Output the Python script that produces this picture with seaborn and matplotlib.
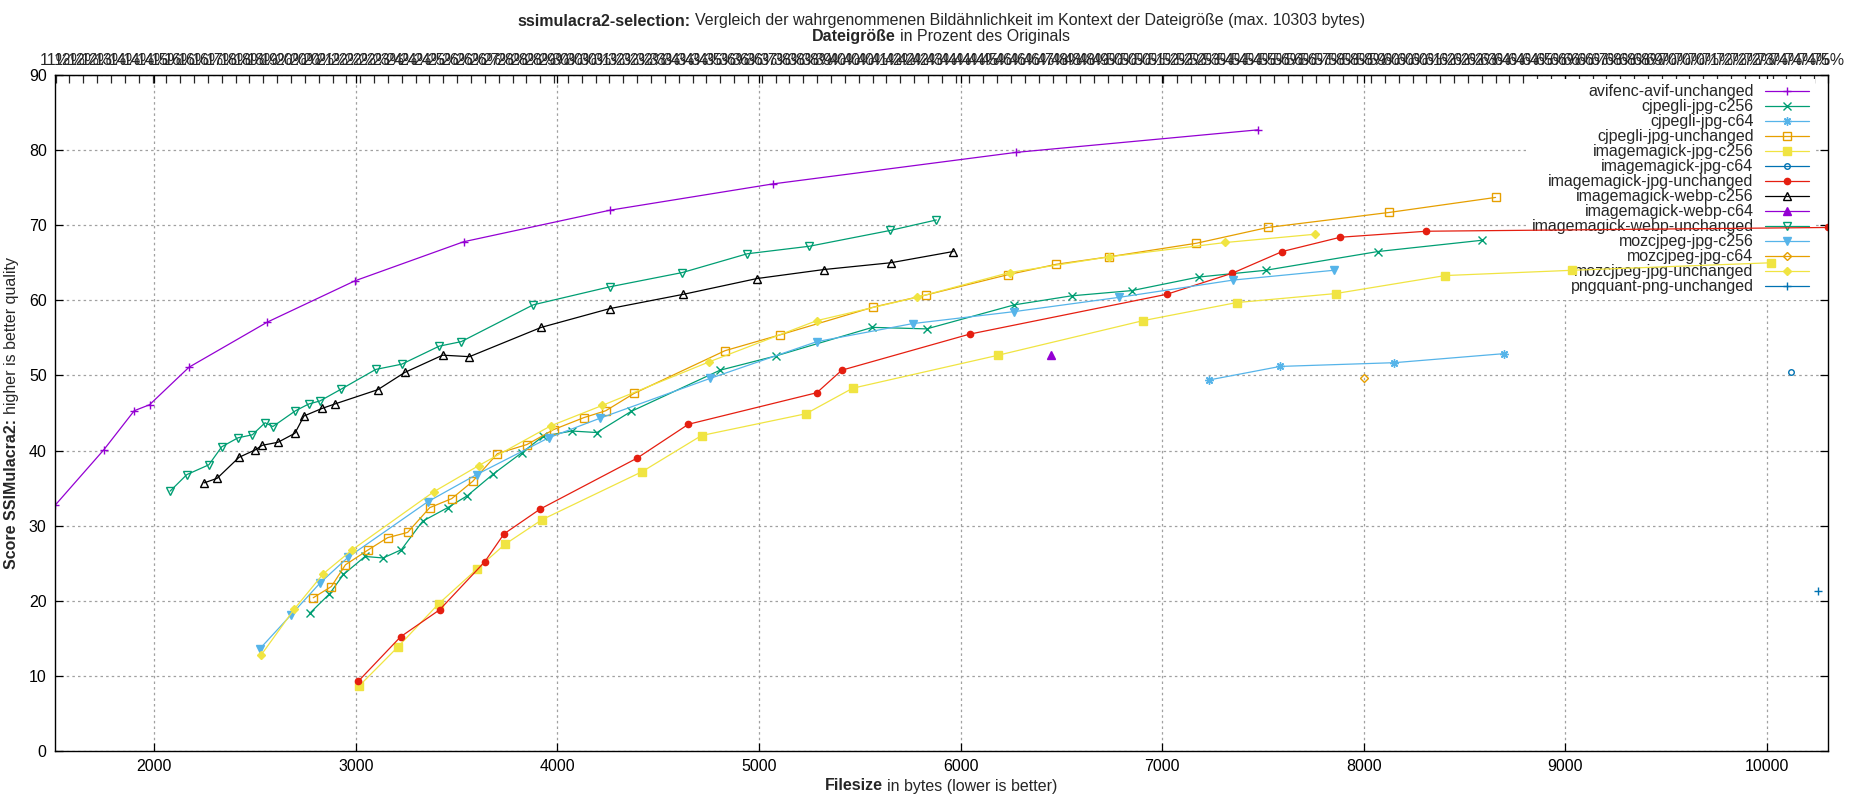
import matplotlib
matplotlib.use("Agg")
import matplotlib.pyplot as plt
import numpy as np
import seaborn as sns

# --- data ---
avif_x = [1508, 1750, 1901, 1977, 2173, 2561, 2996, 3535, 4261, 5069, 6276, 7476]
avif_y = [32.7, 40.1, 45.3, 46.1, 51.1, 57.1, 62.6, 67.8, 72.0, 75.5, 79.7, 82.7]

cjpegli_c256_x = [2774, 2869, 2939, 3046, 3136, 3226, 3332, 3456, 3554, 3683, 3823, 3929, 4071,
                  4196, 4365, 4807, 5084, 5563, 5832, 6267, 6551, 6851, 7181, 7513, 8071, 8588]
cjpegli_c256_y = [18.4, 20.9, 23.5, 25.9, 25.7, 26.8, 30.6, 32.4, 34.0, 36.9, 39.7, 41.9, 42.6,
                  42.4, 45.2, 50.7, 52.6, 56.4, 56.2, 59.4, 60.6, 61.3, 63.1, 64.0, 66.5, 68.0]

cjpegli_c64_x = [7233, 7585, 8152, 8695]
cjpegli_c64_y = [49.4, 51.2, 51.7, 52.9]

cjpegli_unch_x = [2789, 2879, 2949, 3063, 3158, 3257, 3367, 3476, 3580, 3703, 3849, 3982, 4133,
                  4240, 4380, 4832, 5104, 5568, 5827, 6233, 6475, 6738, 7170, 7524, 8126, 8654]
cjpegli_unch_y = [20.4, 21.9, 24.8, 26.8, 28.4, 29.1, 32.4, 33.6, 35.9, 39.6, 40.8, 42.8, 44.4,
                  45.3, 47.6, 53.3, 55.4, 59.1, 60.7, 63.4, 64.8, 65.8, 67.6, 69.7, 71.7, 73.7]

im_jpg_c256_x = [3018, 3207, 3411, 3600, 3739, 3924, 4421, 4715, 5233, 5465, 6188, 6906, 7369,
                 7860, 8405, 9034, 10019]
im_jpg_c256_y = [8.7, 13.8, 19.6, 24.2, 27.5, 30.8, 37.2, 42.0, 44.9, 48.3, 52.7, 57.3, 59.7,
                 60.9, 63.3, 64.0, 65.0]

im_jpg_c64_x = [10120]
im_jpg_c64_y = [50.4]

im_jpg_unch_x = [3013, 3222, 3416, 3640, 3735, 3914, 4396, 4650, 5287, 5411, 6045, 7022, 7347,
                 7596, 7884, 8311, 10303]
im_jpg_unch_y = [9.3, 15.2, 18.8, 25.2, 28.9, 32.2, 39.0, 43.5, 47.7, 50.7, 55.5, 60.8, 63.6,
                 66.5, 68.4, 69.2, 69.7]

im_webp_c256_x = [2248, 2312, 2421, 2502, 2536, 2614, 2698, 2743, 2832, 2896, 3109, 3243, 3431,
                  3564, 3920, 4260, 4625, 4990, 5322, 5653, 5964]
im_webp_c256_y = [35.7, 36.3, 39.1, 40.1, 40.7, 41.1, 42.3, 44.6, 45.6, 46.2, 48.1, 50.4, 52.7,
                  52.5, 56.4, 58.9, 60.8, 62.9, 64.1, 65.0, 66.5]

im_webp_c64_x = [6450]
im_webp_c64_y = [52.7]

im_webp_unch_x = [2079, 2162, 2271, 2335, 2416, 2487, 2550, 2589, 2701, 2767, 2822, 2929, 3099,
                  3228, 3414, 3523, 3880, 4260, 4620, 4942, 5250, 5650, 5880]
im_webp_unch_y = [34.6, 36.8, 38.1, 40.5, 41.7, 42.1, 43.7, 43.2, 45.3, 46.2, 46.6, 48.2, 50.8,
                  51.5, 53.9, 54.5, 59.4, 61.8, 63.7, 66.2, 67.2, 69.3, 70.7]

moz_c256_x = [2524, 2678, 2824, 2962, 3358, 3599, 3957, 4211, 4757, 5287, 5762, 6267, 6787, 7353, 7851]
moz_c256_y = [13.6, 18.1, 22.4, 25.8, 33.2, 36.8, 41.7, 44.3, 49.6, 54.5, 56.9, 58.5, 60.4, 62.7, 64.0]

moz_c64_x = [7999]
moz_c64_y = [49.6]

moz_unch_x = [2531, 2695, 2839, 2983, 3386, 3610, 3968, 4222, 4752, 5287, 5782, 6243, 6738, 7314, 7759]
moz_unch_y = [12.8, 18.9, 23.6, 26.8, 34.5, 38.0, 43.3, 46.0, 51.8, 57.3, 60.4, 63.7, 65.8, 67.7, 68.8]

pngquant_x = [10253]
pngquant_y = [21.3]

max_bytes = 10303
orig_bytes = 13737  # size of the original, top axis shows percent of it

x_ticks = [2000, 3000, 4000, 5000, 6000, 7000, 8000, 9000, 10000]
y_ticks = [0, 10, 20, 30, 40, 50, 60, 70, 80, 90]
pct_ticks = np.arange(11, 75.01, 0.5)
pct_labels = ["%.0f%%" % p for p in pct_ticks]

# name, x, y, colour, marker, filled, marker size
series = [
    ("avifenc-avif-unchanged", avif_x, avif_y, "#9400d3", "+", True, 6),
    ("cjpegli-jpg-c256", cjpegli_c256_x, cjpegli_c256_y, "#009e73", "x", True, 5.5),
    ("cjpegli-jpg-c64", cjpegli_c64_x, cjpegli_c64_y, "#56b4e9", (8, 2, 0), True, 6),
    ("cjpegli-jpg-unchanged", cjpegli_unch_x, cjpegli_unch_y, "#e69f00", "s", False, 5.5),
    ("imagemagick-jpg-c256", im_jpg_c256_x, im_jpg_c256_y, "#f0e442", "s", True, 5.5),
    ("imagemagick-jpg-c64", im_jpg_c64_x, im_jpg_c64_y, "#0072b2", "o", False, 4),
    ("imagemagick-jpg-unchanged", im_jpg_unch_x, im_jpg_unch_y, "#e51e10", "o", True, 4.5),
    ("imagemagick-webp-c256", im_webp_c256_x, im_webp_c256_y, "#000000", "^", False, 6),
    ("imagemagick-webp-c64", im_webp_c64_x, im_webp_c64_y, "#9400d3", "^", True, 6),
    ("imagemagick-webp-unchanged", im_webp_unch_x, im_webp_unch_y, "#009e73", "v", False, 6),
    ("mozcjpeg-jpg-c256", moz_c256_x, moz_c256_y, "#56b4e9", "v", True, 6),
    ("mozcjpeg-jpg-c64", moz_c64_x, moz_c64_y, "#e69f00", "D", False, 4),
    ("mozcjpeg-jpg-unchanged", moz_unch_x, moz_unch_y, "#f0e442", "D", True, 4.5),
    ("pngquant-png-unchanged", pngquant_x, pngquant_y, "#0072b2", "+", True, 6),
]


def rich_text(fig, ax, cx, cy, bold, rest, vertical=False):
    # bold part followed by a regular part, centred as one line (pixels)
    rot = 90 if vertical else 0
    t1 = fig.text(0, 0, bold, fontweight="bold", rotation=rot, transform=None,
                  ha="center" if vertical else "left", va="bottom" if vertical else "center")
    if vertical:
        t2 = ax.annotate(rest, xy=(0.5, 1), xycoords=t1, xytext=(0, 3.2),
                         textcoords="offset points", ha="center", va="bottom",
                         rotation=90, annotation_clip=False)
    else:
        t2 = ax.annotate(rest, xy=(1, 0), xycoords=t1, xytext=(3.2, 0),
                         textcoords="offset points", ha="left", va="bottom",
                         annotation_clip=False)
    r = fig.canvas.get_renderer()
    t1.set_position((cx, cy))
    b1 = t1.get_window_extent(r)
    b2 = t2.get_window_extent(r)
    if vertical:
        total = b1.height + b2.height + 4.4
        t1.set_position((cx, cy - total / 2))
    else:
        total = b1.width + b2.width + 4.4
        t1.set_position((cx - total / 2, cy))


def main():
    sns.set_style("ticks")
    plt.rcParams["font.family"] = ["Liberation Sans", "DejaVu Sans"]
    plt.rcParams["font.size"] = 11.5

    W, H = 1850, 800
    fig = plt.figure(figsize=(18.5, 8), dpi=100)
    ax = fig.add_axes([55 / W, 1 - 751 / H, (1828 - 55) / W, (751 - 75) / H])

    for name, xs, ys, col, mk, filled, ms in series:
        sns.lineplot(x=xs, y=ys, ax=ax, color=col, label=name, estimator=None, sort=False,
                     marker=mk, markersize=ms, linewidth=0.9,
                     markeredgecolor=col, markeredgewidth=1.0,
                     markerfacecolor=col if filled else "none", zorder=2)

    ax.set_xlim(1508, max_bytes)
    ax.set_ylim(0, 90)
    ax.set_xticks(x_ticks)
    ax.set_yticks(y_ticks)
    ax.set_axisbelow(True)
    ax.grid(True, color="#a0a0a0", linestyle=(0, (2, 2.5)), linewidth=0.9)
    for s in ax.spines.values():
        s.set_color("black")
        s.set_linewidth(1.0)
    ax.tick_params(axis="both", direction="in", length=6, width=0.9, colors="black",
                   labelsize=11.5, right=True, top=True)
    ax.tick_params(axis="x", pad=6)
    ax.tick_params(axis="y", pad=6)
    ax.set_xlabel("")
    ax.set_ylabel("")

    secax = ax.secondary_xaxis("top", functions=(lambda b: b / orig_bytes * 100,
                                                 lambda p: p * orig_bytes / 100))
    secax.set_xticks(pct_ticks)
    secax.set_xticklabels(pct_labels)
    secax.tick_params(direction="in", length=6, width=0.9, labelsize=11.5, pad=5)

    leg = ax.legend(loc="upper right", bbox_to_anchor=(1 - 13 / 1773, 1 - 3.5 / 676),
                    markerfirst=False, frameon=True, facecolor="white", edgecolor="none",
                    framealpha=1, fancybox=False, borderaxespad=0, borderpad=0.35,
                    labelspacing=0.0, handlelength=2.75, handletextpad=0.75, fontsize=11.5)
    leg.set_zorder(1.9)

    # pixel positions measured from the bottom-left corner
    rich_text(fig, ax, 941, H - 21, "ssimulacra2-selection:",
              "Vergleich der wahrgenommenen Bildähnlichkeit im Kontext der Dateigröße (max. 10303 bytes)")
    rich_text(fig, ax, 941, H - 37, "Dateigröße", "in Prozent des Originals")
    rich_text(fig, ax, 941, H - 786, "Filesize", "in bytes (lower is better)")
    rich_text(fig, ax, 12, H - 413, "Score SSIMulacra2:", "higher is better quality", vertical=True)

    fig.savefig("out.png", dpi=100, facecolor="white")
    return 0


if __name__ == "__main__":
    main()
